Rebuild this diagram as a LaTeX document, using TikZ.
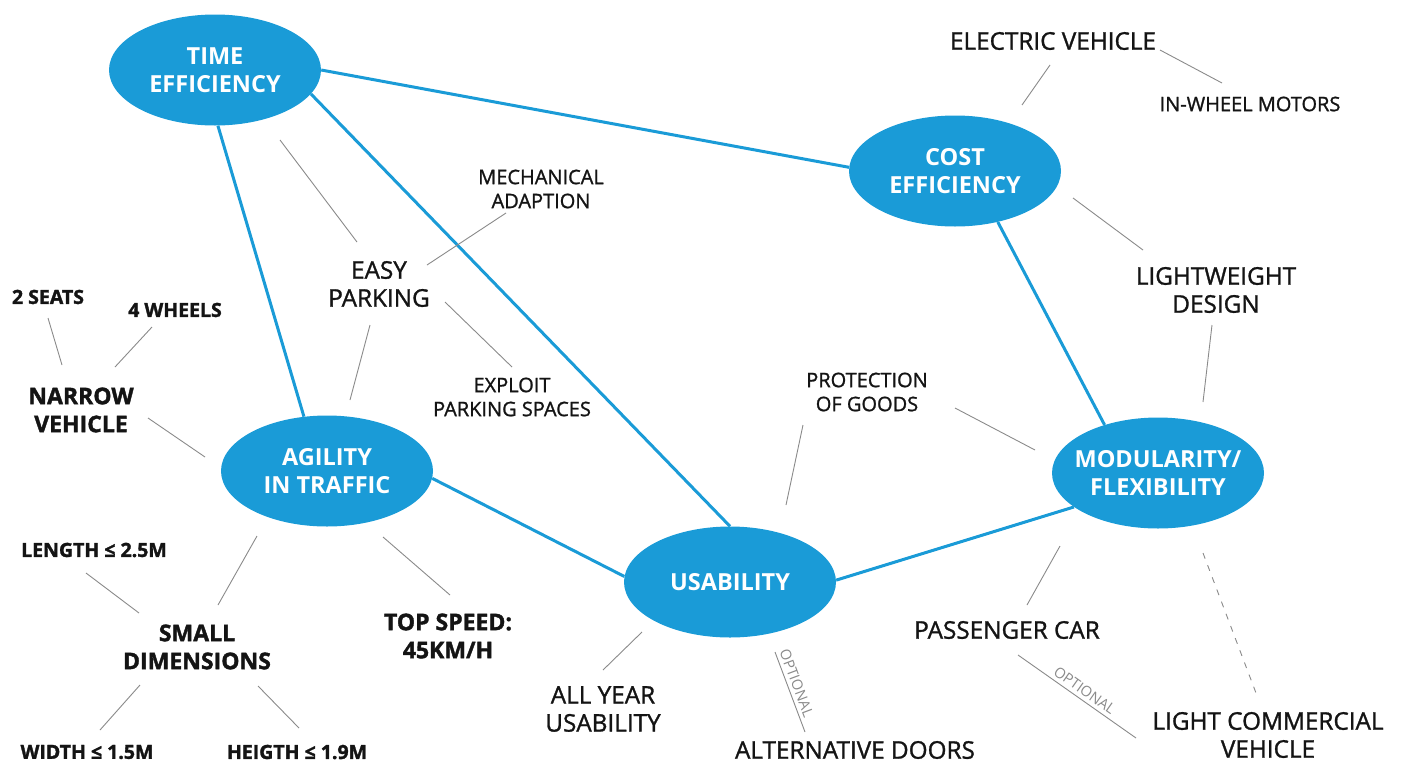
\documentclass[tikz,border=0pt]{standalone}
\usepackage{fontspec}
\setmainfont{Open Sans}
\newfontfamily\semib{Open Sans}[FakeBold=1.2]
\newfontfamily\heavy{Open Sans}[BoldFeatures={FakeBold=1.6}]
\usetikzlibrary{shapes.geometric}
\definecolor{mblue}{HTML}{1A9BD7}
\definecolor{lgray}{HTML}{8A8A8A}
\definecolor{txt}{HTML}{141414}
\tikzset{
  bub/.style={ellipse, fill=mblue, draw=none, minimum width=212pt, minimum height=111pt,
    inner xsep=-15pt, inner ysep=0pt,
    text=white, align=center, font=\fontsize{23.5}{28}\selectfont\bfseries},
  blink/.style={draw=mblue, line width=3pt},
  glink/.style={draw=lgray, line width=0.9pt},
  dlink/.style={draw=lgray, line width=0.9pt, dash pattern=on 6pt off 7pt},
  lab/.style={text=txt, align=center, inner sep=0pt, font=\semib\fontsize{24.3}{28}\selectfont},
  labs/.style={text=txt, align=center, inner sep=0pt, font=\semib\fontsize{20}{24}\selectfont},
  blab/.style={text=txt, align=center, inner sep=0pt, font=\heavy\fontsize{23}{28}\selectfont\bfseries},
  blabs/.style={text=txt, align=center, inner sep=0pt, font=\heavy\fontsize{19.5}{24}\selectfont\bfseries},
  opt/.style={text=lgray, inner sep=3.5pt, font=\fontsize{14.5}{16}\selectfont},
}
\begin{document}
\begin{tikzpicture}[x=1pt, y=-1pt]
\useasboundingbox (0,0) rectangle (1401,764);
% main bubbles
\node[bub] (time) at (215,70) {TIME\\EFFICIENCY};
\node[bub] (cost) at (955,171) {COST\\EFFICIENCY};
\node[bub] (agil) at (327,471) {AGILITY\\IN TRAFFIC};
\node[bub] (usab) at (730,582) {USABILITY};
\node[bub] (modu) at (1158,473) {MODULARITY/\\FLEXIBILITY};
% blue links
\draw[blink] (time.0) -- (cost.178);
\draw[blink] (time.-14) -- (usab.90);
\draw[blink] (time.-87) -- (agil.113);
\draw[blink] (agil.-4) -- (usab.177);
\draw[blink] (usab.1) -- (modu.-158);
\draw[blink] (cost.-50) -- (modu.138);
% labels
\node[lab] (elec) at (1053,41) {ELECTRIC VEHICLE};
\node[labs] (iwm) at (1250,104) {IN-WHEEL MOTORS};
\node[labs] (mech) at (541,189) {MECHANICAL\\ADAPTION};
\node[lab] (easy) at (379,284) {EASY\\PARKING};
\node[labs] (expl) at (512,397) {EXPLOIT\\PARKING SPACES};
\node[blabs] (seats) at (48,297) {2 SEATS};
\node[blabs] (wheels) at (175,310) {4 WHEELS};
\node[blab] (narrow) at (81,410) {NARROW\\VEHICLE};
\node[blabs] (length) at (94,550) {LENGTH ≤ 2.5M};
\node[blab] (small) at (197,647) {SMALL\\DIMENSIONS};
\node[blabs] (width) at (87,752) {WIDTH ≤ 1.5M};
\node[blabs] (height) at (297,752) {HEIGTH ≤ 1.9M};
\node[blab] (speed) at (448,636) {TOP SPEED:\\45KM/H};
\node[lab] (ally) at (603,709) {ALL YEAR\\USABILITY};
\node[lab] (doors) at (855,750) {ALTERNATIVE DOORS};
\node[lab] (pass) at (1007,630) {PASSENGER CAR};
\node[lab] (lcv) at (1268,735) {LIGHT COMMERCIAL\\VEHICLE};
\node[labs] (prot) at (867,392) {PROTECTION\\OF GOODS};
\node[lab] (light) at (1216,290) {LIGHTWEIGHT\\DESIGN};
% gray link end points
\coordinate (g1a) at (280,140); \coordinate (g1b) at (357,242);
\coordinate (g2a) at (427,265); \coordinate (g2b) at (506,213);
\coordinate (g3a) at (445,302); \coordinate (g3b) at (512,367);
\coordinate (g4a) at (370,325); \coordinate (g4b) at (350,400);
\coordinate (g5a) at (62,365);  \coordinate (g5b) at (48,318);
\coordinate (g6a) at (115,367); \coordinate (g6b) at (152,327);
\coordinate (g7a) at (148,418); \coordinate (g7b) at (205,457);
\coordinate (g8a) at (86,573);  \coordinate (g8b) at (139,613);
\coordinate (g9a) at (218,605); \coordinate (g9b) at (257,536);
\coordinate (g10a) at (140,685); \coordinate (g10b) at (100,730);
\coordinate (g11a) at (258,686); \coordinate (g11b) at (299,728);
\coordinate (g12a) at (383,537); \coordinate (g12b) at (450,595);
\coordinate (g13a) at (603,670); \coordinate (g13b) at (642,632);
\coordinate (g14a) at (786,505); \coordinate (g14b) at (803,425);
\coordinate (g15a) at (955,408); \coordinate (g15b) at (1035,450);
\coordinate (g16a) at (775,652); \coordinate (g16b) at (805,732);
\coordinate (g17a) at (1018,655); \coordinate (g17b) at (1136,738);
\coordinate (g18a) at (1027,605); \coordinate (g18b) at (1060,546);
\coordinate (g19a) at (1203,553); \coordinate (g19b) at (1256,693);
\coordinate (g20a) at (1212,325); \coordinate (g20b) at (1203,402);
\coordinate (g21a) at (1073,198); \coordinate (g21b) at (1143,250);
\coordinate (g22a) at (1022,105); \coordinate (g22b) at (1050,65);
\coordinate (g23a) at (1160,50);  \coordinate (g23b) at (1222,83);
\foreach \i in {1,...,15,18,20,21,22,23} {\draw[glink] (g\i a) -- (g\i b);}
\draw[glink] (g16a) -- node[opt, pos=0.43, sloped, above] (opt1) {OPTIONAL} (g16b);
\draw[glink] (g17a) -- node[opt, pos=0.52, sloped, above] (opt2) {OPTIONAL} (g17b);
\draw[dlink] (g19a) -- (g19b);
\end{tikzpicture}
\end{document}
